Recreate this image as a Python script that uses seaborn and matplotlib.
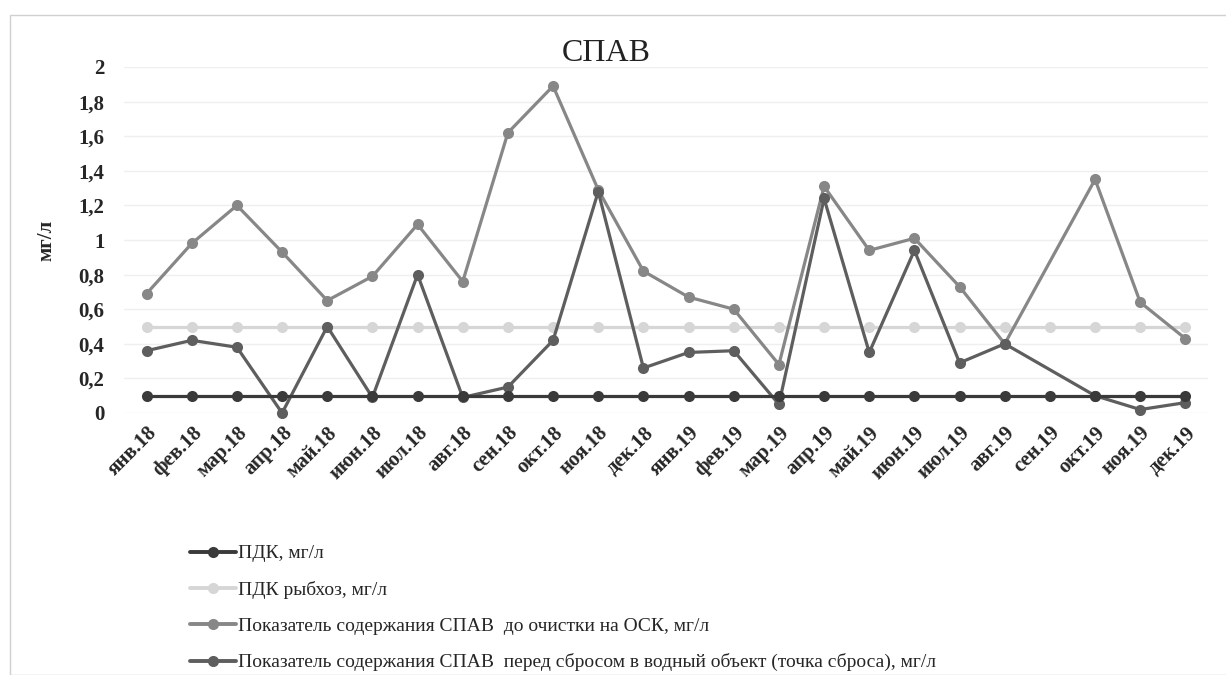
import numpy as np
import pandas as pd
import matplotlib
matplotlib.use("Agg")
import matplotlib.pyplot as plt
from matplotlib.patches import Rectangle
import seaborn as sns

# --- данные ---
months = ["янв.18", "фев.18", "мар.18", "апр.18", "май.18", "июн.18",
          "июл.18", "авг.18", "сен.18", "окт.18", "ноя.18", "дек.18",
          "янв.19", "фев.19", "мар.19", "апр.19", "май.19", "июн.19",
          "июл.19", "авг.19", "сен.19", "окт.19", "ноя.19", "дек.19"]

pdk = [0.1] * 24
pdk_fish = [0.5] * 24
before_osk = [0.69, 0.98, 1.20, 0.93, 0.65, 0.79, 1.09, 0.76, 1.62, 1.89, 1.29, 0.82,
              0.67, 0.60, 0.28, 1.31, 0.94, 1.01, 0.73, 0.40, np.nan, 1.35, 0.64, 0.43]
before_drop = [0.36, 0.42, 0.38, 0.00, 0.50, 0.09, 0.80, 0.09, 0.15, 0.42, 1.28, 0.26,
               0.35, 0.36, 0.05, 1.24, 0.35, 0.94, 0.29, 0.40, np.nan, 0.10, 0.02, 0.06]

labels = ["ПДК, мг/л",
          "ПДК рыбхоз, мг/л",
          "Показатель содержания СПАВ  до очистки на ОСК, мг/л",
          "Показатель содержания СПАВ  перед сбросом в водный объект (точка сброса), мг/л"]
colors = ["#3a3a3a", "#d6d6d6", "#878787", "#5e5e5e"]

df = pd.DataFrame({"x": np.arange(len(months)),
                   labels[0]: pdk, labels[1]: pdk_fish,
                   labels[2]: before_osk, labels[3]: before_drop})
long = df.melt(id_vars="x", var_name="series", value_name="value")

sns.set_theme(style="white")
plt.rcParams["font.family"] = ["Liberation Serif", "DejaVu Serif"]

fig = plt.figure(figsize=(12.26, 6.75), dpi=100)
ax = fig.add_axes([124 / 1226, 1 - 413 / 675, (1208 - 124) / 1226, (413 - 67) / 675])

# порядок отрисовки: рыбхоз снизу, ПДК поверх
for lab, col in [(labels[1], colors[1]), (labels[2], colors[2]),
                 (labels[3], colors[3]), (labels[0], colors[0])]:
    sub = long[long["series"] == lab]
    sns.lineplot(data=sub, x="x", y="value", ax=ax, color=col, linewidth=2.3,
                 marker="o", markersize=8, markeredgewidth=0, label=lab,
                 clip_on=False, legend=False)

ax.set_xlim(-0.5, len(months) - 0.5)
ax.set_ylim(0, 2)
yt = np.arange(0, 2.01, 0.2)
ax.set_yticks(yt)
ax.set_yticklabels([("%g" % round(v, 1)).replace(".", ",") for v in yt],
                   fontsize=15, fontweight="bold")
ax.set_xticks(np.arange(len(months)))
ax.set_xticklabels(months, rotation=45, ha="right", rotation_mode="anchor",
                   fontsize=15, fontweight="bold")
ax.tick_params(axis="x", pad=7, length=0)
ax.tick_params(axis="y", pad=14, length=0)
ax.grid(axis="y", color="#efefef", linewidth=1)
for s in ax.spines.values():
    s.set_visible(False)
ax.set_xlabel("")
ax.set_ylabel("мг/л", fontsize=15, fontweight="bold", labelpad=16)
ax.set_title("СПАВ", fontsize=23, color="#222222", pad=4, x=0.445)

# легенда под графиком
handles = []
for lab in labels:
    col = colors[labels.index(lab)]
    h, = ax.plot([], [], color=col, linewidth=2.8, marker="o", markersize=8,
                 markeredgewidth=0)
    handles.append(h)
fig.legend(handles, labels, loc="upper left", bbox_to_anchor=(180 / 1226, 1 - 535 / 675),
           frameon=False, fontsize=14, labelspacing=0.95, handlelength=2.4,
           handletextpad=0.1, borderpad=0)

# рамка области диаграммы
fig.patches.append(Rectangle((10 / 1226, 0), 1.2, 1 - 15 / 675, transform=fig.transFigure,
                             fill=False, edgecolor="#d0d0d0", linewidth=1))

fig.savefig("out.png", dpi=100, facecolor="white")
